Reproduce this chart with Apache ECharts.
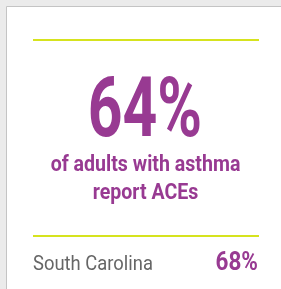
<!DOCTYPE html>
<html>
<head>
<meta charset="utf-8">
<script src="https://cdn.jsdelivr.net/npm/echarts@6/dist/echarts.min.js"></script>
<style>
  html, body { margin: 0; padding: 0; background: #ebebeb; }
  #chart { width: 281px; height: 289px; }
</style>
</head>
<body>
<div id="chart"></div>
<script>
// headline stat
const headlineValues = [64];
const headlineLines = ['of adults with asthma', 'report ACEs'];
// comparison row
const stateNames = ['South Carolina'];
const stateValues = [68];

const PURPLE = '#983a92';
const LIME = '#d6e31e';
const GREY = '#666666';
const FONT = 'Roboto';

const chart = echarts.init(document.getElementById('chart'));

const rule = (y) => ({
    type: 'rect',
    shape: { x: 33, y: y, width: 226, height: 2 },
    style: { fill: LIME }
});

chart.setOption({
    backgroundColor: '#ebebeb',
    graphic: [
        {
            type: 'rect',
            shape: { x: 6.5, y: 6.5, width: 300, height: 300 },
            style: { fill: '#ffffff', stroke: '#c4c4c4', lineWidth: 1 }
        },
        rule(39),
        {
            type: 'text', x: 145, y: 115, scaleX: 0.73,
            style: {
                text: headlineValues[0] + '%', fill: PURPLE,
                font: 'bold 83px ' + FONT, textAlign: 'center', textVerticalAlign: 'middle'
            }
        },
        ...headlineLines.map((line, i) => ({
            type: 'text', x: 145.5, y: 165 + i * 28, scaleX: 0.89,
            style: {
                text: line, fill: PURPLE,
                font: 'bold 22px ' + FONT, textAlign: 'center', textVerticalAlign: 'middle'
            }
        })),
        rule(235),
        {
            type: 'text', x: 33, y: 265, scaleX: 0.92,
            style: {
                text: stateNames[0], fill: GREY,
                font: '20px ' + FONT, textAlign: 'left', textVerticalAlign: 'middle'
            }
        },
        {
            type: 'text', x: 258, y: 263.5, scaleX: 0.9,
            style: {
                text: stateValues[0] + '%', fill: PURPLE,
                font: 'bold 25px ' + FONT, textAlign: 'right', textVerticalAlign: 'middle'
            }
        }
    ]
});
</script>
</body>
</html>
